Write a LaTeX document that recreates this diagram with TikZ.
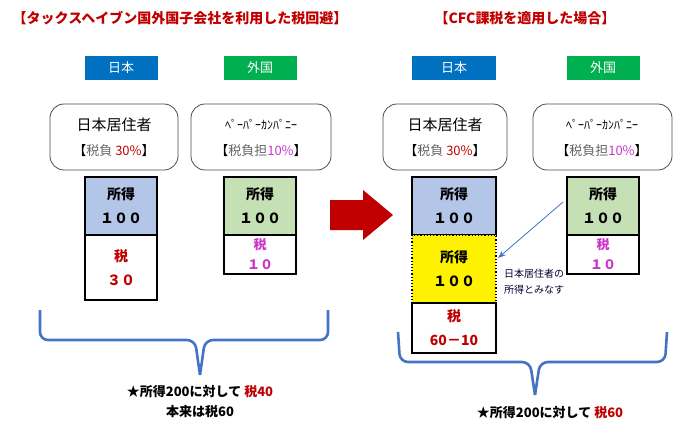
\documentclass[tikz,border=0pt]{standalone}
\usepackage{fontspec}
\setmainfont{Noto Sans CJK JP}
\usetikzlibrary{arrows.meta}
\definecolor{ttl}{HTML}{C00000}
\definecolor{jpblue}{HTML}{0070C0}
\definecolor{fgreen}{HTML}{00B050}
\definecolor{incblue}{HTML}{B4C6E7}
\definecolor{incgreen}{HTML}{C5E0B4}
\definecolor{brc}{HTML}{4472C4}
\definecolor{pink}{HTML}{CC33CC}
\tikzset{
  flag/.style={minimum width=36.5pt, minimum height=12pt, inner sep=0pt, text=white},
  ent/.style={draw=black!70, rounded corners=7pt, inner sep=0pt},
  cell/.style={draw, line width=1.2pt, inner sep=0pt},
  brace/.style={draw=brc, line width=1.3pt, rounded corners=4pt},
}
\begin{document}
\begin{tikzpicture}[x=0.5pt,y=-0.5pt,font=\fontsize{6.5}{8}\selectfont]
\useasboundingbox (0,0) rectangle (691,433);
% titles
\node[text=ttl, font=\fontsize{7}{8}\selectfont\bfseries] (t1) at (180,18) {【タックスヘイブン国外国子会社を利用した税回避】};
\node[text=ttl, font=\fontsize{7}{8}\selectfont\bfseries] (t2) at (525,18) {【CFC課税を適用した場合】};
% flags
\node[flag, fill=jpblue] (fj1) at (121,68) {日本};
\node[flag, fill=fgreen] (ff1) at (260,68) {外国};
\node[flag, fill=jpblue, minimum width=42pt] (fj2) at (454,68) {日本};
\node[flag, fill=fgreen] (ff2) at (603,68) {外国};
% entities
\draw[ent] (50,104) rectangle (178,170);
\node (r1) at (114,125) {\fontsize{7.5}{8}\selectfont 日本居住者};
\node (r1b) at (114,151) {【\textcolor{black!60}{税負} \textcolor{ttl}{30\%}】};
\draw[ent] (191,104) rectangle (331,170);
\node (p1) at (261,125) {\fontsize{6}{7}\selectfont ﾍﾟｰﾊﾟｰｶﾝﾊﾟﾆｰ};
\node (p1b) at (261,151) {【\textcolor{black!60}{税負担}\textcolor{pink}{10\%}】};
\draw[ent] (383,104) rectangle (507,170);
\node (r2) at (445,125) {\fontsize{7.5}{8}\selectfont 日本居住者};
\node (r2b) at (445,151) {【\textcolor{black!60}{税負} \textcolor{ttl}{30\%}】};
\draw[ent] (533,104) rectangle (672,170);
\node (p2) at (602,125) {\fontsize{6}{7}\selectfont ﾍﾟｰﾊﾟｰｶﾝﾊﾟﾆｰ};
\node (p2b) at (602,151) {【\textcolor{black!60}{税負担}\textcolor{pink}{10\%}】};
% left cells
\draw[cell, fill=incblue] (85,177) rectangle (157,235);
\node[align=center, font=\fontsize{7}{12}\selectfont\bfseries] (i1) at (121,206) {所得\\１００};
\draw[cell] (85,235) rectangle (157,300);
\node[align=center, text=ttl, font=\fontsize{7}{12}\selectfont\bfseries] (x1) at (121,268) {税\\３０};
\draw[cell, fill=incgreen] (224,177) rectangle (296,235);
\node[align=center, font=\fontsize{7}{12}\selectfont\bfseries] (i2) at (260,206) {所得\\１００};
\draw[cell] (224,235) rectangle (296,274);
\node[align=center, text=pink, font=\fontsize{6.5}{10}\selectfont\bfseries] (x2) at (260,254) {税\\１０};
% red arrow
\fill[ttl] (330,200) -- (363,200) -- (363,190) -- (393,215) -- (363,240) -- (363,230) -- (330,230) -- cycle;
% right cells
\draw[cell, fill=incblue] (412,177) rectangle (496,235);
\node[align=center, font=\fontsize{7}{12}\selectfont\bfseries] (i3) at (454,206) {所得\\１００};
\fill[yellow] (412,235) rectangle (496,303);
\draw[densely dotted, line width=0.6pt] (412,235) rectangle (496,303);
\node[align=center, font=\fontsize{7}{12}\selectfont\bfseries] (y3) at (454,269) {所得\\１００};
\draw[cell] (412,303) rectangle (496,353);
\node[align=center, text=ttl, font=\fontsize{7}{12}\selectfont\bfseries] (x3) at (454,328) {税\\60－10};
\draw[cell, fill=incgreen] (567,177) rectangle (639,235);
\node[align=center, font=\fontsize{7}{12}\selectfont\bfseries] (i4) at (603,206) {所得\\１００};
\draw[cell] (567,235) rectangle (639,274);
\node[align=center, text=pink, font=\fontsize{6.5}{10}\selectfont\bfseries] (x4) at (603,254) {税\\１０};
% deemed income
\coordinate (s) at (563,202);
\coordinate (e) at (498,258);
\draw[brc, -{Stealth[length=4pt]}, line width=0.4pt] (s) -- (e);
\node[align=left, anchor=west, text=black!80!blue, font=\fontsize{5}{8}\selectfont] (note) at (497,282) {日本居住者の\\所得とみなす};
% braces
\draw[brace] (40,310) -- (40,340) -- (195,340) -- (200,375);
\draw[brace] (328,310) -- (328,340) -- (205,340) -- (200,375);
\draw[brace] (398,332) -- (400,362) -- (530,362) -- (535,395);
\draw[brace] (667,332) -- (665,362) -- (540,362) -- (535,395);
% summaries
\node[font=\fontsize{6.5}{8}\selectfont\bfseries] (sum1) at (200,392) {★所得200に対して \textcolor{ttl}{税40}};
\node[font=\fontsize{6.5}{8}\selectfont\bfseries] (sum1b) at (200,412) {本来は税60};
\node[font=\fontsize{6.5}{8}\selectfont\bfseries] (sum2) at (550,413) {★所得200に対して \textcolor{ttl}{税60}};
\end{tikzpicture}
\end{document}
